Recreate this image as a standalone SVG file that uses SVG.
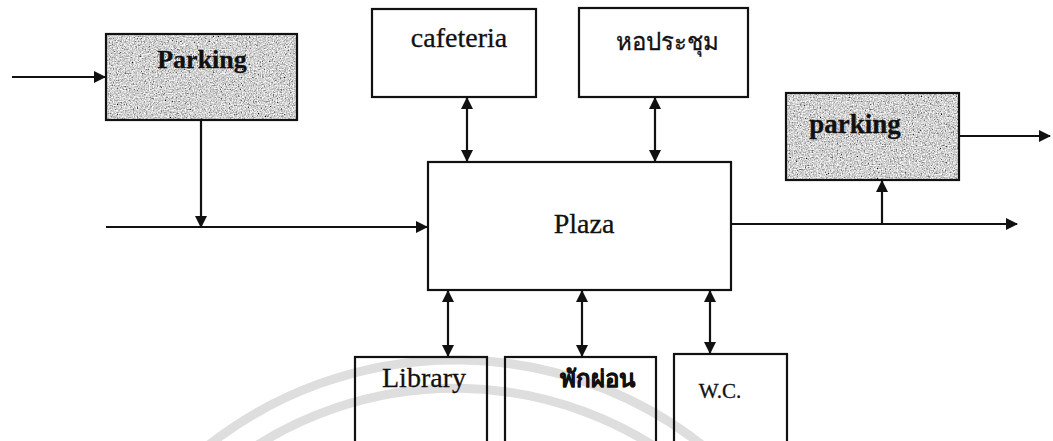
<svg xmlns="http://www.w3.org/2000/svg" width="1053" height="441" viewBox="0 0 1053 441">
<style>
.box{fill:none;stroke:#111;stroke-width:2.2}
.edge{stroke:#111;stroke-width:2.2;fill:none}
.t{font-family:"Liberation Serif","DejaVu Serif","Noto Sans",serif;fill:#111;text-anchor:middle;stroke:#111;stroke-width:0.3}
.wm{fill:none;stroke:#dedede;stroke-width:9}
</style>
<defs>
<filter id="speckle" x="0" y="0" width="100%" height="100%">
<feTurbulence type="fractalNoise" baseFrequency="0.75" numOctaves="3" seed="7"/>
<feColorMatrix type="matrix" values="0.33 0.33 0.33 0 0 0.33 0.33 0.33 0 0 0.33 0.33 0.33 0 0 0 0 0 0 1"/>
<feComponentTransfer>
<feFuncR type="linear" slope="3" intercept="-0.85"/>
<feFuncG type="linear" slope="3" intercept="-0.85"/>
<feFuncB type="linear" slope="3" intercept="-0.85"/>
</feComponentTransfer>
</filter>
<marker id="ah" markerWidth="12" markerHeight="12" refX="11" refY="6" orient="auto-start-reverse" markerUnits="userSpaceOnUse">
<path d="M0,0 L12,6 L0,12 Z" fill="#111"/>
</marker>
</defs>
<rect width="1053" height="441" fill="#fff"/>
<g id="watermark">
<path class="wm" d="M200,452 A400,400 0 0 1 720,460"/>
<path class="wm" d="M230,464 A372,372 0 0 1 690,472"/>
</g>
<g id="connectors">
<line class="edge" x1="12" y1="77" x2="105" y2="77" marker-end="url(#ah)"/>
<line class="edge" x1="201" y1="120" x2="201" y2="227" marker-end="url(#ah)"/>
<line class="edge" x1="106" y1="227" x2="427" y2="227" marker-end="url(#ah)"/>
<line class="edge" x1="467" y1="98" x2="467" y2="161" marker-start="url(#ah)" marker-end="url(#ah)"/>
<line class="edge" x1="655" y1="98" x2="655" y2="161" marker-start="url(#ah)" marker-end="url(#ah)"/>
<line class="edge" x1="731" y1="224" x2="1017" y2="224" marker-end="url(#ah)"/>
<line class="edge" x1="882" y1="224" x2="882" y2="181" marker-end="url(#ah)"/>
<line class="edge" x1="959" y1="136" x2="1050" y2="136" marker-end="url(#ah)"/>
<line class="edge" x1="448" y1="291" x2="448" y2="356" marker-start="url(#ah)" marker-end="url(#ah)"/>
<line class="edge" x1="582" y1="291" x2="582" y2="356" marker-start="url(#ah)" marker-end="url(#ah)"/>
<line class="edge" x1="710" y1="291" x2="710" y2="353" marker-start="url(#ah)" marker-end="url(#ah)"/>
</g>
<g id="parking-left">
<rect x="106" y="34" width="191" height="86" filter="url(#speckle)"/>
<rect class="box" x="106" y="34" width="191" height="86"/>
<text class="t" x="202" y="68" font-size="26" font-weight="bold">Parking</text>
</g>
<g id="cafeteria">
<rect class="box" x="372" y="9" width="164" height="88"/>
<text class="t" x="459" y="47" font-size="28">cafeteria</text>
</g>
<g id="hall">
<rect class="box" x="579" y="8" width="169" height="89"/>
<text class="t" x="667" y="50" font-size="24">หอประชุม</text>
</g>
<g id="parking-right">
<rect x="786" y="93" width="173" height="87" filter="url(#speckle)"/>
<rect class="box" x="786" y="93" width="173" height="87"/>
<text class="t" x="855" y="133" font-size="27" font-weight="bold">parking</text>
</g>
<g id="plaza">
<rect class="box" x="428" y="162" width="303" height="128"/>
<text class="t" x="584" y="233" font-size="28">Plaza</text>
</g>
<g id="library">
<rect class="box" x="355" y="357" width="132" height="95"/>
<text class="t" x="424" y="387" font-size="28">Library</text>
</g>
<g id="rest">
<rect class="box" x="505" y="357" width="151" height="95"/>
<text class="t" x="597" y="387" font-size="24" font-weight="bold">พักผ่อน</text>
</g>
<g id="wc">
<rect class="box" x="674" y="354" width="113" height="95"/>
<text class="t" x="720" y="398" font-size="21">W.C.</text>
</g>
</svg>
